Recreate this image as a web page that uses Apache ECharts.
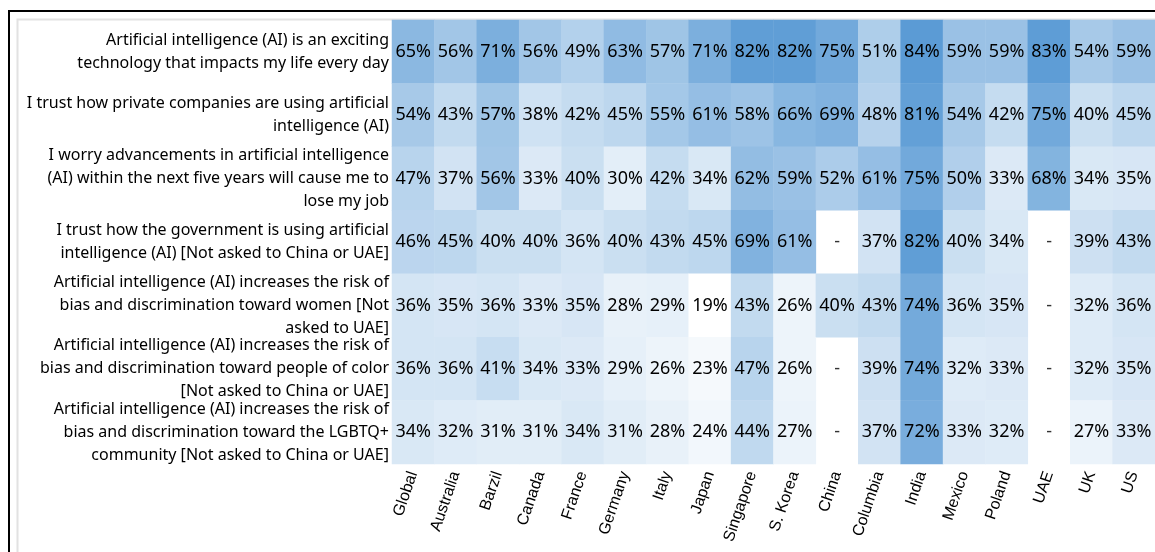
<!DOCTYPE html>
<html>
<head>
<meta charset="utf-8">
<script src="https://cdn.jsdelivr.net/npm/echarts@6/dist/echarts.min.js"></script>
<style>
  html, body { margin: 0; padding: 0; background: #fff; }
  #chart { width: 1155px; height: 552px; }
</style>
</head>
<body>
<div id="chart"></div>
<script>
// countries along the bottom
const countries = ['Global', 'Australia', 'Barzil', 'Canada', 'France', 'Germany', 'Italy', 'Japan',
  'Singapore', 'S. Korea', 'China', 'Columbia', 'India', 'Mexico', 'Poland', 'UAE', 'UK', 'US']

// statements (rows, top to bottom)
const statements = [
  'Artificial intelligence (AI) is an exciting\ntechnology that impacts my life every day',
  'I trust how private companies are using artificial\nintelligence (AI)',
  'I worry advancements in artificial intelligence\n(AI) within the next five years will cause me to\nlose my job',
  'I trust how the government is using artificial\nintelligence (AI) [Not asked to China or UAE]',
  'Artificial intelligence (AI) increases the risk of\nbias and discrimination toward women [Not\nasked to UAE]',
  'Artificial intelligence (AI) increases the risk of\nbias and discrimination toward people of color\n[Not asked to China or UAE]',
  'Artificial intelligence (AI) increases the risk of\nbias and discrimination toward the LGBTQ+\ncommunity [Not asked to China or UAE]'
]

// % agree, one array per statement, null = not asked
const excitingTech   = [65, 56, 71, 56, 49, 63, 57, 71, 82, 82, 75, 51, 84, 59, 59, 83, 54, 59]
const trustCompanies = [54, 43, 57, 38, 42, 45, 55, 61, 58, 66, 69, 48, 81, 54, 42, 75, 40, 45]
const worryJob       = [47, 37, 56, 33, 40, 30, 42, 34, 62, 59, 52, 61, 75, 50, 33, 68, 34, 35]
const trustGov       = [46, 45, 40, 40, 36, 40, 43, 45, 69, 61, null, 37, 82, 40, 34, null, 39, 43]
const biasWomen      = [36, 35, 36, 33, 35, 28, 29, 19, 43, 26, 40, 43, 74, 36, 35, null, 32, 36]
const biasColor      = [36, 36, 41, 34, 33, 29, 26, 23, 47, 26, null, 39, 74, 32, 33, null, 32, 35]
const biasLgbtq      = [34, 32, 31, 31, 34, 31, 28, 24, 44, 27, null, 37, 72, 33, 32, null, 27, 33]

const rows = [excitingTech, trustCompanies, worryJob, trustGov, biasWomen, biasColor, biasLgbtq]

let cells = []
let missing = []
rows.forEach((row, y) => {
  row.forEach((v, x) => {
    if (v === null) missing.push([x, y])
    else cells.push([x, y, v])
  })
})

let myChart = echarts.init(document.getElementById('chart'))
myChart.setOption({
  backgroundColor: '#fff',
  animation: false,
  graphic: [
    {
      type: 'rect',
      shape: { x: 9, y: 11, width: 1200, height: 600 },
      style: { fill: 'none', stroke: '#000', lineWidth: 2 },
      z: 100
    },
    {
      type: 'rect',
      shape: { x: 17.5, y: 19.5, width: 1200, height: 600 },
      style: { fill: 'none', stroke: '#e2e2e2', lineWidth: 2 },
      z: 1
    }
  ],
  grid: {
    left: 392,
    top: 20,
    width: 767,
    height: 444
  },
  xAxis: {
    type: 'category',
    data: countries,
    axisLine: { show: false },
    axisTick: { show: false },
    splitArea: { show: false },
    axisLabel: {
      interval: 0,
      rotate: 71,
      margin: 8,
      fontFamily: 'Liberation Sans, Arial',
      fontSize: 16,
      color: '#000'
    }
  },
  yAxis: {
    type: 'category',
    data: statements,
    inverse: true,
    axisLine: { show: false },
    axisTick: { show: false },
    axisLabel: {
      interval: 0,
      margin: 3,
      fontFamily: 'Noto Sans',
      fontSize: 16,
      lineHeight: 23,
      color: '#000',
      align: 'right'
    }
  },
  visualMap: {
    show: false,
    seriesIndex: 0,
    min: 19,
    max: 84,
    inRange: { color: ['#ffffff', '#5b9bd5'] }
  },
  series: [
    {
      type: 'heatmap',
      data: cells,
      label: {
        show: true,
        formatter: p => p.value[2] + '%',
        fontFamily: 'Noto Sans',
        fontSize: 18,
        color: '#000'
      },
      emphasis: { disabled: true }
    },
    {
      type: 'scatter',
      data: missing,
      symbolSize: 1,
      itemStyle: { color: 'rgba(255,255,255,0)' },
      label: {
        show: true,
        position: 'inside',
        formatter: '-',
        fontFamily: 'Noto Sans',
        fontSize: 18,
        color: '#000'
      }
    }
  ]
})
</script>
</body>
</html>
